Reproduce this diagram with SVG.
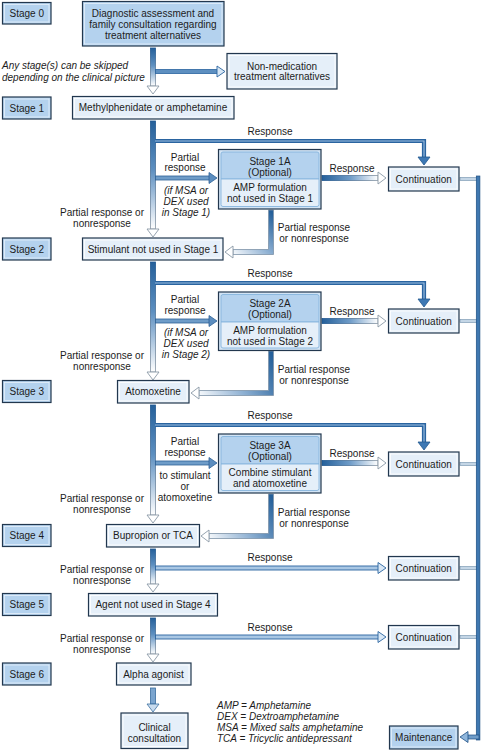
<svg xmlns="http://www.w3.org/2000/svg" width="482" height="750" viewBox="0 0 482 750">
<style>
text{font-family:"Liberation Sans",Arial,sans-serif;font-size:10px;fill:#1c1c1c}
.m{text-anchor:middle}
.i{font-style:italic}
.stg{fill:#b4d2ee;stroke:#22374e;stroke-width:1.2}
.stgi{fill:none;stroke:#e6f1fb;stroke-width:0.8}
.trt{fill:#e5eff9;stroke:#22374e;stroke-width:1.2}
.trti{fill:none;stroke:#ffffff;stroke-width:0.8}
.optO{fill:#d2e4f5;stroke:#22374e;stroke-width:1.2}
.optH{fill:#b4d2ee;stroke:#86b4dd;stroke-width:0.9}
.optB{fill:#e5eff9;stroke:#86b4dd;stroke-width:0.9}
.vsh{fill:url(#gV);stroke:url(#gVs);stroke-width:0.8}
.hsh{fill:url(#gH);stroke:url(#gHs);stroke-width:0.8}
.hol{fill:#ffffff;stroke:#8a98a6;stroke-width:0.9}
.pa{fill:#6e9cc8;stroke:#2d6197;stroke-width:0.8}
.pah{fill:#5b8dbf;stroke:#2d6197;stroke-width:0.8}
.ra{fill:#a9c7e4;stroke:#2a64a0;stroke-width:0.9}
.rah{fill:#d8e7f5;stroke:#2a64a0;stroke-width:0.9}
.rlo{fill:none;stroke:#2a64a0;stroke-width:4.2}
.rli{fill:none;stroke:#9dc0e2;stroke-width:1.1}
.rlh{fill:#3d78b4;stroke:#22588f;stroke-width:0.8}
.cn{fill:#c4d6e6;stroke:#6f8eab;stroke-width:0.6}
</style>
<defs>
<linearGradient id="gV" x1="0" y1="0" x2="0" y2="1"><stop offset="0" stop-color="#25609a"/><stop offset="0.45" stop-color="#5d8fc0"/><stop offset="1" stop-color="#ffffff"/></linearGradient>
<linearGradient id="gVs" x1="0" y1="0" x2="0" y2="1"><stop offset="0" stop-color="#1d5690"/><stop offset="1" stop-color="#8a98a6"/></linearGradient>
<linearGradient id="gH" x1="0" y1="0" x2="1" y2="0"><stop offset="0" stop-color="#25609a"/><stop offset="0.5" stop-color="#6f9cc8"/><stop offset="1" stop-color="#ffffff"/></linearGradient>
<linearGradient id="gHs" x1="0" y1="0" x2="1" y2="0"><stop offset="0" stop-color="#1d5690"/><stop offset="1" stop-color="#8a98a6"/></linearGradient>
<linearGradient id="gR1" gradientUnits="userSpaceOnUse" x1="271" y1="212" x2="228" y2="252"><stop offset="0" stop-color="#25609a"/><stop offset="0.5" stop-color="#8fb1d3"/><stop offset="1" stop-color="#ffffff"/></linearGradient>
<linearGradient id="gR2" gradientUnits="userSpaceOnUse" x1="271" y1="353" x2="194" y2="393"><stop offset="0" stop-color="#25609a"/><stop offset="0.5" stop-color="#8fb1d3"/><stop offset="1" stop-color="#ffffff"/></linearGradient>
<linearGradient id="gR3" gradientUnits="userSpaceOnUse" x1="271" y1="496" x2="204" y2="536"><stop offset="0" stop-color="#25609a"/><stop offset="0.5" stop-color="#8fb1d3"/><stop offset="1" stop-color="#ffffff"/></linearGradient>
</defs>

<g id="connectors">
  <!-- Stage 0 to Stage 1 -->
  <rect class="vsh" x="150.5" y="48" width="5" height="38"/>
  <polygon class="hol" points="147,86 159,86 153,94"/>
  <rect x="155.5" y="69.5" width="62" height="4" fill="#5d8fc0" stroke="#2a64a0" stroke-width="0.8"/>
  <polygon class="rah" points="217,66 217,77 225,71.5"/>

  <!-- Stage 1 to Stage 2 -->
  <rect class="vsh" x="150.5" y="121" width="5" height="108"/>
  <polygon class="hol" points="147,229 159,229 153,237"/>
  <path class="rlo" d="M155,141 H424 V158"/>
  <path class="rli" d="M155,141 H424 V158"/>
  <polygon class="rlh" points="418,157 430,157 424,165"/>
  <rect class="pa" x="155.5" y="176" width="54" height="4"/>
  <polygon class="pah" points="209,172.5 209,183.5 217,178"/>
  <rect class="hsh" x="322" y="175.5" width="56" height="5"/>
  <polygon class="hol" points="378,172 378,184 386,178"/>
  <polygon fill="url(#gR1)" stroke="#7d93a8" stroke-width="0.8" points="268.5,210 273.5,210 273.5,254.5 233,254.5 233,249.5 268.5,249.5"/>
  <polygon class="hol" points="233,246 233,258 225,252"/>

  <!-- Stage 2 to Stage 3 -->
  <rect class="vsh" x="150.5" y="262" width="5" height="110"/>
  <polygon class="hol" points="147,372 159,372 153,380"/>
  <path class="rlo" d="M155,283 H424 V300"/>
  <path class="rli" d="M155,283 H424 V300"/>
  <polygon class="rlh" points="418,299 430,299 424,307"/>
  <rect class="pa" x="155.5" y="319" width="54" height="4"/>
  <polygon class="pah" points="209,315.5 209,326.5 217,321"/>
  <rect class="hsh" x="322" y="318.5" width="56" height="5"/>
  <polygon class="hol" points="378,315 378,327 386,321"/>
  <polygon fill="url(#gR2)" stroke="#7d93a8" stroke-width="0.8" points="268.5,351 273.5,351 273.5,395.5 199,395.5 199,390.5 268.5,390.5"/>
  <polygon class="hol" points="199,387 199,399 191,393"/>

  <!-- Stage 3 to Stage 4 -->
  <rect class="vsh" x="150.5" y="405" width="5" height="110"/>
  <polygon class="hol" points="147,515 159,515 153,523"/>
  <path class="rlo" d="M155,425 H424 V443"/>
  <path class="rli" d="M155,425 H424 V443"/>
  <polygon class="rlh" points="418,442 430,442 424,450"/>
  <rect class="pa" x="155.5" y="461" width="54" height="4"/>
  <polygon class="pah" points="209,457.5 209,468.5 217,463"/>
  <rect class="hsh" x="322" y="460.5" width="56" height="5"/>
  <polygon class="hol" points="378,457 378,469 386,463"/>
  <polygon fill="url(#gR3)" stroke="#7d93a8" stroke-width="0.8" points="268.5,494 273.5,494 273.5,538.5 209,538.5 209,533.5 268.5,533.5"/>
  <polygon class="hol" points="209,530 209,542 201,536"/>

  <!-- Stage 4 to Stage 5 -->
  <rect class="vsh" x="150.5" y="549" width="5" height="35"/>
  <polygon class="hol" points="147,584 159,584 153,592"/>
  <rect class="ra" x="155.5" y="566" width="223" height="4"/>
  <polygon class="rah" points="378,562.5 378,573.5 386,568"/>

  <!-- Stage 5 to Stage 6 -->
  <rect class="vsh" x="150.5" y="618" width="5" height="36"/>
  <polygon class="hol" points="147,654 159,654 153,662"/>
  <rect class="ra" x="155.5" y="635" width="223" height="4"/>
  <polygon class="rah" points="378,631.5 378,642.5 386,637"/>

  <!-- Stage 6 to clinical consultation -->
  <rect x="150.5" y="688" width="5" height="16" fill="#7ba5cf" stroke="#3b6e9f" stroke-width="0.8"/>
  <polygon fill="#c9dcef" stroke="#3b6e9f" stroke-width="0.8" points="147,704 159,704 153,712"/>

  <!-- Continuations to maintenance -->
  <rect class="cn" x="460" y="177.5" width="17" height="3"/>
  <rect class="cn" x="460" y="319.5" width="17" height="3"/>
  <rect class="cn" x="460" y="462.5" width="17" height="3"/>
  <rect class="cn" x="460" y="566.5" width="17" height="3"/>
  <rect class="cn" x="460" y="635.5" width="17" height="3"/>
  <rect x="476.3" y="176" width="3.6" height="564" fill="#3f78b0" stroke="#1d4f84" stroke-width="0.7"/>
  <rect x="467" y="735" width="12" height="4" fill="#6f9cc8" stroke="#1d4f84" stroke-width="0.7"/>
  <polygon fill="#8fb6dc" stroke="#1d4f84" stroke-width="0.8" points="468,731.5 468,742.5 460,737"/>
</g>

<g id="stage0">
  <rect class="stg" x="2.5" y="2.5" width="48.5" height="21.5"/><rect class="stgi" x="4.5" y="4.5" width="44.5" height="17.5"/>
  <text class="m" x="26.8" y="16.8">Stage 0</text>
</g>
<g id="stage1">
  <rect class="stg" x="2.5" y="97" width="48.5" height="22"/><rect class="stgi" x="4.5" y="99" width="44.5" height="18"/>
  <text class="m" x="26.8" y="111.5">Stage 1</text>
</g>
<g id="stage2">
  <rect class="stg" x="2.5" y="238" width="48.5" height="22"/><rect class="stgi" x="4.5" y="240" width="44.5" height="18"/>
  <text class="m" x="26.8" y="252.5">Stage 2</text>
</g>
<g id="stage3">
  <rect class="stg" x="2.5" y="380.5" width="48.5" height="22"/><rect class="stgi" x="4.5" y="382.5" width="44.5" height="18"/>
  <text class="m" x="26.8" y="395">Stage 3</text>
</g>
<g id="stage4">
  <rect class="stg" x="2.5" y="524.5" width="48.5" height="22"/><rect class="stgi" x="4.5" y="526.5" width="44.5" height="18"/>
  <text class="m" x="26.8" y="539">Stage 4</text>
</g>
<g id="stage5">
  <rect class="stg" x="2.5" y="593.5" width="48.5" height="22"/><rect class="stgi" x="4.5" y="595.5" width="44.5" height="18"/>
  <text class="m" x="26.8" y="608">Stage 5</text>
</g>
<g id="stage6">
  <rect class="stg" x="2.5" y="663" width="48.5" height="22"/><rect class="stgi" x="4.5" y="665" width="44.5" height="18"/>
  <text class="m" x="26.8" y="677.5">Stage 6</text>
</g>

<g id="diagnostic">
  <rect class="stg" x="82.5" y="1.5" width="141.5" height="44.5"/><rect class="stgi" x="84.5" y="3.5" width="137.5" height="40.5"/>
  <text class="m" x="153" y="16.8">Diagnostic assessment and</text>
  <text class="m" x="153" y="27.8">family consultation regarding</text>
  <text class="m" x="153" y="38.8">treatment alternatives</text>
</g>
<text id="skip-note" class="i" x="2" y="68.5">Any stage(s) can be skipped<tspan x="2" y="80.5">depending on the clinical picture</tspan></text>
<g id="nonmed">
  <rect class="trt" x="227" y="53.5" width="110" height="35.5"/><rect class="trti" x="229" y="55.5" width="106" height="31.5"/>
  <text class="m" x="282" y="69.5">Non-medication</text>
  <text class="m" x="282" y="80.3">treatment alternatives</text>
</g>

<g id="methylphenidate">
  <rect class="trt" x="72.5" y="96.5" width="161.5" height="22.5"/><rect class="trti" x="74.5" y="98.5" width="157.5" height="18.5"/>
  <text class="m" x="153" y="111.3">Methylphenidate or amphetamine</text>
</g>
<g id="stimulant">
  <rect class="trt" x="82.5" y="238" width="140.5" height="22"/><rect class="trti" x="84.5" y="240" width="136.5" height="18"/>
  <text class="m" x="153" y="252.5">Stimulant not used in Stage 1</text>
</g>
<g id="atomoxetine">
  <rect class="trt" x="117.5" y="380.5" width="71.5" height="22.5"/><rect class="trti" x="119.5" y="382.5" width="67.5" height="18.5"/>
  <text class="m" x="153" y="395.3">Atomoxetine</text>
</g>
<g id="bupropion">
  <rect class="trt" x="106.5" y="524.5" width="93" height="22.5"/><rect class="trti" x="108.5" y="526.5" width="89" height="18.5"/>
  <text class="m" x="153" y="539.3">Bupropion or TCA</text>
</g>
<g id="agent">
  <rect class="trt" x="88.5" y="593.5" width="129" height="22.5"/><rect class="trti" x="90.5" y="595.5" width="125" height="18.5"/>
  <text class="m" x="153" y="608.3">Agent not used in Stage 4</text>
</g>
<g id="alpha">
  <rect class="trt" x="116.5" y="663" width="74.5" height="22"/><rect class="trti" x="118.5" y="665" width="70.5" height="18"/>
  <text class="m" x="153.5" y="677.5">Alpha agonist</text>
</g>
<g id="clinical">
  <rect class="trt" x="121" y="713" width="67" height="35.5"/><rect class="trti" x="123" y="715" width="63" height="31.5"/>
  <text class="m" x="154.5" y="730.5">Clinical</text>
  <text class="m" x="154.5" y="741.5">consultation</text>
</g>

<g id="stage1a">
  <rect class="optO" x="218.5" y="149.5" width="102.5" height="59.5"/>
  <path class="optH" d="M223,152 H317 Q319,152 319,154 V179 H221 V154 Q221,152 223,152 Z"/>
  <path class="optB" d="M221,179 H319 V204.5 Q319,206.5 317,206.5 H223 Q221,206.5 221,204.5 Z"/>
  <text class="m" x="270" y="164.5">Stage 1A</text>
  <text class="m" x="270" y="175.5">(Optional)</text>
  <text class="m" x="270" y="190.5">AMP formulation</text>
  <text class="m" x="270" y="201.5">not used in Stage 1</text>
</g>
<g id="stage2a">
  <rect class="optO" x="218.5" y="292" width="102.5" height="58.5"/>
  <path class="optH" d="M223,294.5 H317 Q319,294.5 319,296.5 V322 H221 V296.5 Q221,294.5 223,294.5 Z"/>
  <path class="optB" d="M221,322 H319 V346 Q319,348 317,348 H223 Q221,348 221,346 Z"/>
  <text class="m" x="270" y="306.5">Stage 2A</text>
  <text class="m" x="270" y="317.5">(Optional)</text>
  <text class="m" x="270" y="333.5">AMP formulation</text>
  <text class="m" x="270" y="344.5">not used in Stage 2</text>
</g>
<g id="stage3a">
  <rect class="optO" x="218.5" y="434" width="102.5" height="59"/>
  <path class="optH" d="M223,436.5 H317 Q319,436.5 319,438.5 V464 H221 V438.5 Q221,436.5 223,436.5 Z"/>
  <path class="optB" d="M221,464 H319 V488.5 Q319,490.5 317,490.5 H223 Q221,490.5 221,488.5 Z"/>
  <text class="m" x="270" y="448.5">Stage 3A</text>
  <text class="m" x="270" y="459.5">(Optional)</text>
  <text class="m" x="270" y="475.5">Combine stimulant</text>
  <text class="m" x="270" y="486.5">and atomoxetine</text>
</g>

<g id="continuation1"><rect class="trt" x="388.5" y="167" width="70.5" height="24"/><rect class="trti" x="390.5" y="169" width="66.5" height="20"/><text class="m" x="423.7" y="182.5">Continuation</text></g>
<g id="continuation2"><rect class="trt" x="388.5" y="309" width="70.5" height="24"/><rect class="trti" x="390.5" y="311" width="66.5" height="20"/><text class="m" x="423.7" y="324.5">Continuation</text></g>
<g id="continuation3"><rect class="trt" x="388.5" y="452" width="70.5" height="24"/><rect class="trti" x="390.5" y="454" width="66.5" height="20"/><text class="m" x="423.7" y="467.5">Continuation</text></g>
<g id="continuation4"><rect class="trt" x="388.5" y="556.5" width="70.5" height="23.5"/><rect class="trti" x="390.5" y="558.5" width="66.5" height="19.5"/><text class="m" x="423.7" y="571.7">Continuation</text></g>
<g id="continuation5"><rect class="trt" x="388.5" y="625.5" width="70.5" height="23.5"/><rect class="trti" x="390.5" y="627.5" width="66.5" height="19.5"/><text class="m" x="423.7" y="640.7">Continuation</text></g>
<g id="maintenance"><rect class="stg" x="389.5" y="726" width="68.5" height="23"/><rect class="stgi" x="391.5" y="728" width="64.5" height="19"/><text class="m" x="423.7" y="741">Maintenance</text></g>

<g id="labels">
  <text class="m" x="270" y="134.5">Response</text>
  <text class="m" x="270" y="276.5">Response</text>
  <text class="m" x="270" y="418.5">Response</text>
  <text class="m" x="270" y="560.5">Response</text>
  <text class="m" x="270" y="630.5">Response</text>
  <text class="m" x="352" y="171.5">Response</text>
  <text class="m" x="352" y="314.5">Response</text>
  <text class="m" x="352" y="456.5">Response</text>

  <text class="m" x="185" y="160.5">Partial</text><text class="m" x="185" y="171">response</text>
  <text class="m i" x="186" y="193.5">(if MSA or</text><text class="m i" x="186" y="204.5">DEX used</text><text class="m i" x="186" y="215.5">in Stage 1)</text>
  <text class="m" x="185" y="302.5">Partial</text><text class="m" x="185" y="313.5">response</text>
  <text class="m i" x="186" y="335.5">(if MSA or</text><text class="m i" x="186" y="346.5">DEX used</text><text class="m i" x="186" y="357.5">in Stage 2)</text>
  <text class="m" x="185" y="444.5">Partial</text><text class="m" x="185" y="455.5">response</text>
  <text class="m" x="185" y="478.5">to stimulant</text><text class="m" x="185" y="489.5">or</text><text class="m" x="185" y="500.5">atomoxetine</text>

  <text class="m" x="102" y="215.5">Partial response or</text><text class="m" x="102" y="226.5">nonresponse</text>
  <text class="m" x="102" y="358.5">Partial response or</text><text class="m" x="102" y="369.5">nonresponse</text>
  <text class="m" x="102" y="501.5">Partial response or</text><text class="m" x="102" y="512.5">nonresponse</text>
  <text class="m" x="102" y="572.5">Partial response or</text><text class="m" x="102" y="583.5">nonresponse</text>
  <text class="m" x="102" y="641.5">Partial response or</text><text class="m" x="102" y="652.5">nonresponse</text>

  <text class="m" x="314" y="230.5">Partial response</text><text class="m" x="314" y="241.5">or nonresponse</text>
  <text class="m" x="314" y="372.5">Partial response</text><text class="m" x="314" y="383.5">or nonresponse</text>
  <text class="m" x="314" y="515.5">Partial response</text><text class="m" x="314" y="526.5">or nonresponse</text>
</g>

<g id="legend">
  <text class="i" x="217" y="708.5">AMP = Amphetamine</text>
  <text class="i" x="217" y="719.5">DEX = Dextroamphetamine</text>
  <text class="i" x="217" y="730.5">MSA = Mixed salts amphetamine</text>
  <text class="i" x="217" y="741.5">TCA = Tricyclic antidepressant</text>
</g>
</svg>
